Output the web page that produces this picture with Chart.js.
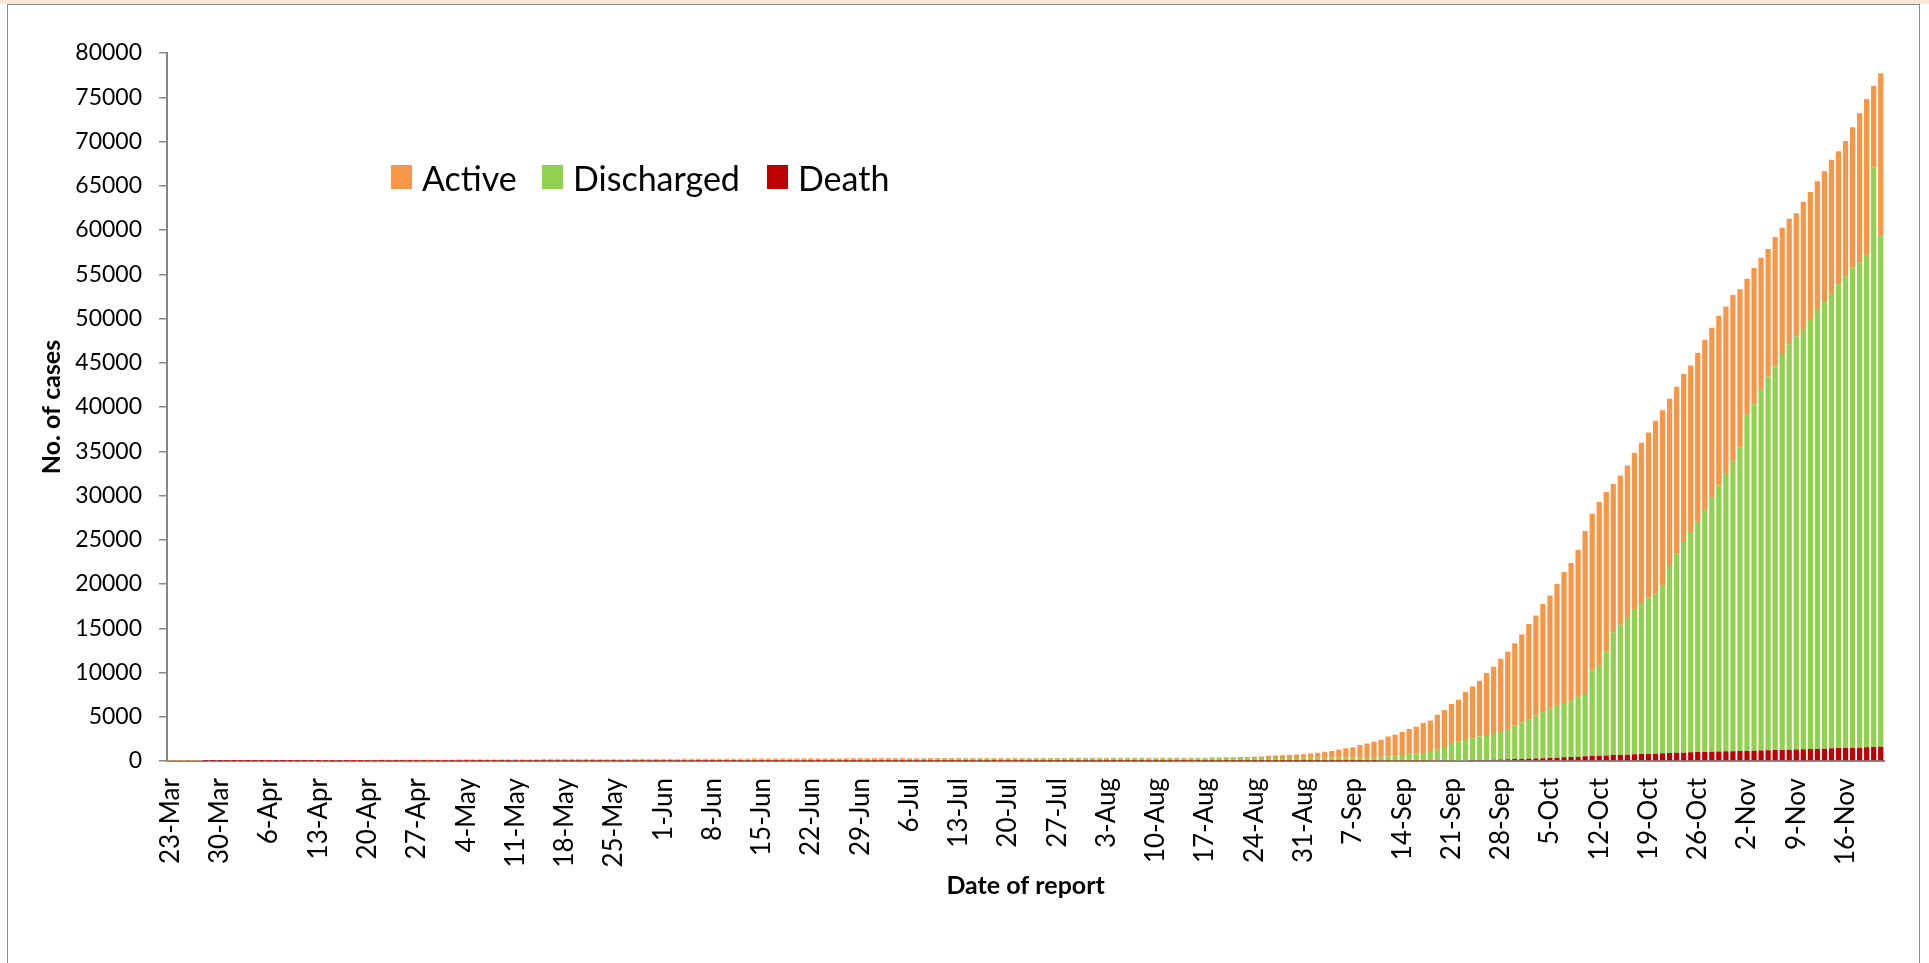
<!DOCTYPE html>
<html>
<head>
<meta charset="utf-8">
<title>Cases by date of report</title>
<script src="https://cdn.jsdelivr.net/npm/chart.js@4"></script>
<style>
  html, body { margin: 0; padding: 0; background: #fff; width: 1929px; height: 963px; overflow: hidden; font-family: Lato, sans-serif; }
  #strip { position: absolute; left: 0; top: 0; width: 1929px; height: 4px; background: #fce4d6; }
  #frame { position: absolute; left: 7px; top: 4px; width: 1911px; height: 1000px; border: 1px solid #8a8a8a; border-bottom: none; }
  #wrap { position: absolute; left: 0; top: 0; width: 1929px; height: 963px; }
  .item { position: absolute; top: 157px; height: 40px; display: flex; align-items: center; font-size: 34px; color: #000; white-space: nowrap; }
  .box { display: inline-block; width: 21px; height: 24px; margin-right: 10px; }
</style>
</head>
<body>
<div id="strip"></div>
<div id="frame"></div>
<div id="wrap"><canvas id="chart"></canvas></div>
<div class="item" style="left:391px"><span class="box" style="background:#f79646"></span>Active</div>
<div class="item" style="left:542px"><span class="box" style="background:#92d050"></span>Discharged</div>
<div class="item" style="left:767px"><span class="box" style="background:#c00000"></span>Death</div>
<script>
// one bar per day, first bar 23-Mar, last bar 21-Nov
var startDay = new Date(2020, 2, 23);
var dayCount = 244;
var monthNames = ["Jan", "Feb", "Mar", "Apr", "May", "Jun", "Jul", "Aug", "Sep", "Oct", "Nov", "Dec"];
var tickEvery = 7;

// values, one row per week
var death = [
  0, 0, 0, 0, 0, 1, 1,
  1, 1, 1, 1, 1, 1, 1,
  1, 3, 3, 4, 4, 4, 4,
  4, 5, 5, 5, 5, 5, 5,
  5, 5, 5, 5, 5, 6, 6,
  6, 6, 6, 6, 6, 6, 6,
  6, 6, 6, 6, 6, 6, 6,
  6, 6, 6, 6, 6, 6, 6,
  6, 6, 6, 6, 6, 6, 6,
  6, 6, 6, 6, 6, 6, 6,
  6, 6, 6, 6, 6, 6, 6,
  6, 6, 6, 6, 6, 6, 6,
  6, 6, 6, 6, 6, 6, 6,
  6, 6, 6, 6, 6, 6, 6,
  6, 6, 6, 6, 6, 6, 6,
  6, 6, 6, 6, 6, 6, 6,
  6, 6, 6, 6, 6, 6, 6,
  6, 6, 6, 6, 6, 6, 6,
  6, 6, 6, 6, 6, 6, 6,
  6, 6, 6, 6, 6, 6, 6,
  6, 6, 6, 6, 6, 6, 6,
  6, 6, 6, 6, 6, 6, 6,
  6, 6, 6, 6, 6, 6, 6,
  6, 6, 7, 8, 8, 8, 8,
  8, 10, 12, 14, 16, 18, 20,
  21, 25, 31, 39, 46, 57, 64,
  70, 85, 93, 100, 113, 120, 150,
  170, 190, 230, 240, 260, 270, 300,
  340, 380, 410, 440, 460, 540, 560,
  580, 610, 680, 690, 710, 750, 790,
  800, 830, 870, 900, 920, 940, 980,
  1020, 1030, 1050, 1060, 1090, 1100, 1130,
  1140, 1150, 1200, 1210, 1240, 1250, 1280,
  1290, 1320, 1360, 1370, 1390, 1430, 1470,
  1480, 1490, 1510, 1540, 1580, 1600
];

var discharged = [
  0, 0, 0, 0, 0, 0, 0,
  0, 0, 0, 0, 0, 0, 2,
  2, 2, 2, 2, 2, 2, 2,
  4, 4, 4, 4, 7, 7, 9,
  10, 11, 13, 13, 16, 19, 25,
  35, 40, 42, 42, 48, 48, 51,
  55, 63, 63, 66, 72, 79, 90,
  96, 97, 97, 97, 97, 97, 98,
  103, 107, 114, 116, 121, 124, 127,
  131, 133, 133, 138, 141, 144, 144,
  146, 148, 150, 151, 151, 152, 158,
  163, 166, 168, 169, 171, 172, 175,
  178, 189, 201, 202, 203, 204, 206,
  208, 209, 209, 212, 213, 215, 217,
  218, 220, 223, 227, 230, 230, 232,
  236, 239, 243, 245, 250, 254, 260,
  266, 270, 272, 275, 278, 280, 283,
  285, 286, 288, 290, 293, 293, 294,
  295, 295, 296, 296, 298, 300, 300,
  300, 300, 303, 303, 305, 306, 306,
  307, 308, 309, 310, 312, 314, 316,
  318, 320, 322, 324, 325, 327, 329,
  331, 333, 335, 337, 340, 343, 346,
  354, 359, 363, 367, 377, 384, 392,
  402, 420, 438, 441, 474, 502, 580,
  659, 795, 829, 861, 1084, 1223, 1406,
  1960, 2095, 2387, 2530, 2667, 2700, 2900,
  3120, 3420, 3790, 4120, 4410, 4850, 5230,
  5570, 5870, 6140, 6370, 6810, 7030, 9760,
  10270, 11780, 13860, 14710, 15560, 16430, 17060,
  17650, 18150, 18940, 21250, 22540, 23810, 25010,
  26100, 27440, 28740, 30080, 31440, 32830, 34270,
  37990, 39150, 40830, 42250, 43350, 44730, 45800,
  46690, 47500, 48590, 49710, 50440, 51450, 52390,
  53280, 54310, 54840, 55660, 65500, 57680
];

var active = [
  3, 3, 5, 8, 8, 9, 9,
  13, 14, 15, 19, 20, 20, 19,
  19, 17, 22, 22, 32, 35, 56,
  54, 65, 76, 79, 86, 99, 105,
  106, 111, 121, 126, 123, 121, 115,
  105, 104, 103, 103, 101, 101, 104,
  100, 92, 107, 105, 100, 95, 84,
  78, 78, 79, 79, 81, 84, 84,
  82, 80, 79, 77, 74, 73, 71,
  69, 67, 68, 80, 81, 78, 82,
  81, 82, 84, 87, 89, 92, 96,
  92, 89, 88, 87, 86, 85, 105,
  103, 92, 83, 83, 83, 82, 81,
  79, 78, 79, 78, 77, 78, 76,
  79, 77, 75, 76, 77, 80, 78,
  75, 72, 72, 75, 75, 71, 70,
  67, 63, 62, 60, 57, 57, 55,
  54, 56, 56, 54, 52, 52, 53,
  52, 52, 53, 54, 52, 51, 51,
  51, 51, 50, 51, 50, 50, 53,
  53, 52, 52, 52, 51, 49, 53,
  52, 57, 67, 80, 99, 107, 120,
  137, 181, 239, 267, 304, 331, 388,
  400, 495, 570, 675, 745, 888, 1030,
  1130, 1380, 1540, 1725, 1920, 2260, 2370,
  2600, 2800, 3020, 3390, 3460, 3950, 4290,
  4410, 4750, 5320, 5800, 6290, 7120, 7610,
  8270, 8740, 9280, 9940, 10800, 11310, 12210,
  12800, 13750, 14810, 15560, 16610, 18420, 17620,
  18410, 18000, 16760, 16870, 17130, 17660, 18120,
  18680, 19470, 19810, 18790, 18840, 18980, 18710,
  19020, 19130, 19170, 19180, 18840, 18720, 17900,
  15370, 15400, 14840, 14390, 14610, 14280, 14200,
  13900, 14330, 14350, 14420, 14820, 15070, 15040,
  15290, 15800, 16850, 17600, 9220, 18420
];

var dates = [];
for (var i = 0; i < dayCount; i++) {
  var d = new Date(startDay.getFullYear(), startDay.getMonth(), startDay.getDate() + i);
  dates.push(d.getDate() + "-" + monthNames[d.getMonth()]);
}

var axisGrey = "#868686";

var ctx = document.getElementById("chart").getContext("2d");
var myChart = new Chart(ctx, {
  type: "bar",
  data: {
    labels: dates,
    datasets: [
      { label: "Death", data: death, backgroundColor: "#c00000" },
      { label: "Discharged", data: discharged, backgroundColor: "#92d050" },
      { label: "Active", data: active, backgroundColor: "#f79646" },
    ],
  },
  options: {
    responsive: true,
    maintainAspectRatio: false,
    animation: false,
    datasets: {
      bar: { barPercentage: 0.74, categoryPercentage: 1.0, borderWidth: 0 },
    },
    layout: { padding: { top: 53, right: 36, left: 0, bottom: 0 } },
    plugins: {
      legend: { display: false },
      tooltip: { enabled: false },
    },
    scales: {
      x: {
        stacked: true,
        grid: { display: false, drawTicks: false },
        border: { display: true, color: axisGrey, width: 2 },
        ticks: {
          autoSkip: false,
          minRotation: 90,
          maxRotation: 90,
          padding: 17,
          color: "#000",
          font: { family: "Lato", size: 26 },
          callback: function (value, index) {
            return index % tickEvery === 0 ? this.getLabelForValue(value) : "";
          },
        },
        title: {
          display: true,
          text: "Date of report",
          color: "#000",
          font: { family: "Lato", size: 25, weight: "bold" },
          padding: { top: 0, bottom: 62 },
        },
        afterFit: function (scale) {
          scale.height = 202;
        },
      },
      y: {
        stacked: true,
        min: 0,
        max: 80000,
        grid: { drawOnChartArea: false, drawTicks: true, tickLength: 8, color: axisGrey, lineWidth: 1.5 },
        border: { display: true, color: axisGrey, width: 2 },
        ticks: {
          stepSize: 5000,
          padding: 17,
          color: "#000",
          font: { family: "Lato", size: 23 },
          callback: function (value) {
            return String(value);
          },
        },
        title: {
          display: true,
          text: "No. of cases",
          color: "#000",
          font: { family: "Lato", size: 25, weight: "bold" },
          padding: { top: 37, bottom: 0 },
        },
        afterFit: function (scale) {
          scale.width = 167;
        },
      },
    },
  },
});
</script>
</body>
</html>
